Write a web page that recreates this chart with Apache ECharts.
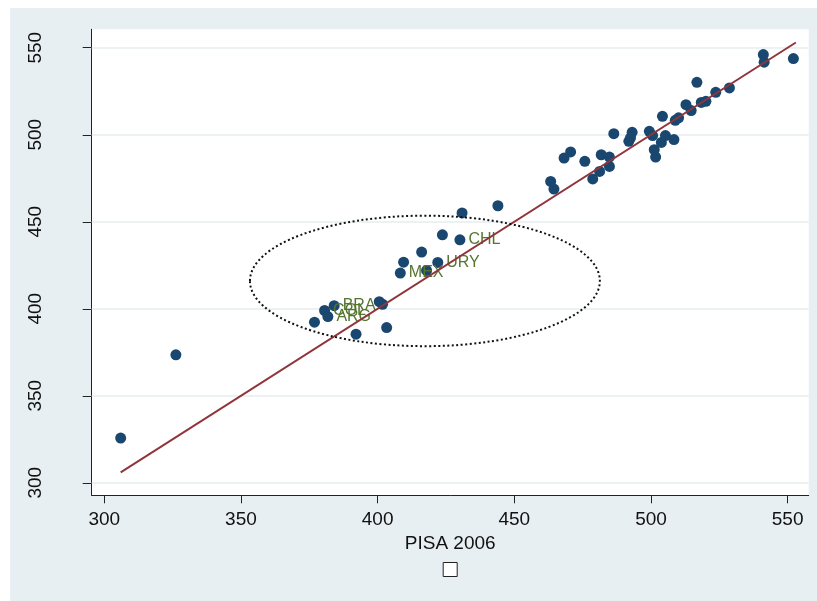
<!DOCTYPE html>
<html>
<head>
<meta charset="utf-8">
<script src="https://cdn.jsdelivr.net/npm/echarts@6/dist/echarts.min.js"></script>
<style>
    html, body { margin: 0; padding: 0; background: #fff; }
    #mainChart { position: absolute; left: 10px; top: 8px; width: 807px; height: 593px; }
</style>
</head>
<body>
<div id="mainChart"></div>
<script>
// tick values
var xTicks = [300, 350, 400, 450, 500, 550];
var yTicks = [300, 350, 400, 450, 500, 550];

// PISA 2006 (x) vs. other score (y), one point per country
var pisaX = [306.0, 326.2, 376.9, 380.6, 381.8, 384.1, 392.1, 400.6, 401.8, 403.3,
    408.3, 409.5, 416.1, 417.9, 422.0, 423.7, 430.1, 430.9, 444.0,
    463.3, 464.5, 468.2, 470.6, 475.8, 478.7, 481.2, 481.8, 484.8, 484.8,
    486.4, 491.9, 492.5, 493.1, 499.4, 500.6, 501.2, 501.7, 503.8, 505.3,
    508.4, 504.2, 508.9, 510.1, 512.8, 514.7, 516.8, 518.4, 520.1, 523.7,
    528.7, 541.1, 541.4, 552.1];
var pisaY = [325.7, 373.5, 392.3, 399.0, 395.5, 401.8, 385.4, 404.1, 402.6, 389.2,
    420.5, 426.8, 432.6, 422.0, 426.6, 442.5, 439.6, 455.1, 459.2,
    473.2, 468.8, 486.6, 490.1, 484.7, 474.6, 478.9, 488.5, 487.2, 481.8,
    500.6, 496.2, 498.2, 501.4, 502.0, 499.5, 491.4, 487.2, 495.6, 499.5,
    497.2, 510.6, 508.3, 509.7, 517.3, 513.9, 530.1, 518.6, 519.2, 524.4,
    526.9, 546.1, 541.7, 543.8];

// labelled countries (index into pisaX / pisaY)
var labelIdx = [3, 4, 5, 10, 14, 16];
var labelText = ['COL', 'ARG', 'BRA', 'MEX', 'URY', 'CHL'];

// fitted line end points
var fitX = [306, 553];
var fitY = [306, 553];

// ellipse: centre x, centre y, radius x, radius y (data units)
var ellipse = [417.3, 416, 64, 37.5];

var option;
var summaryChart;

function buildOption() {
    var points = [];
    for (var i = 0; i < pisaX.length; i++) {
        var k = labelIdx.indexOf(i);
        points.push({
            name: k >= 0 ? labelText[k] : '',
            value: [pisaX[i], pisaY[i]],
            label: { show: k >= 0 }
        });
    }
    var fit = [];
    for (var j = 0; j < fitX.length; j++) {
        fit.push([fitX[j], fitY[j]]);
    }
    var grid = [];
    for (var g = 0; g < yTicks.length; g++) {
        grid.push({ yAxis: yTicks[g] });
    }

    var axisFont = { fontFamily: 'Liberation Sans', fontSize: 19, color: '#111' };

    option = {
        backgroundColor: '#e8eff2',
        animation: false,
        textStyle: { fontFamily: 'Liberation Sans' },
        grid: {
            left: 81.7, top: 21.3, width: 717, height: 466,
            show: true, backgroundColor: '#fff', borderWidth: 0
        },
        legend: {
            data: [{ name: 'PISA', icon: 'rect', itemStyle: { color: '#fff', borderColor: '#222', borderWidth: 1 } }],
            left: 432.7, bottom: 24, padding: 0,
            itemWidth: 14, itemHeight: 14,
            formatter: function () { return ''; }
        },
        xAxis: {
            type: 'value',
            min: 295.4, max: 557.7,
            name: 'PISA 2006',
            nameLocation: 'middle',
            nameGap: 34,
            nameTextStyle: axisFont,
            axisLine: { show: true, onZero: false, lineStyle: { color: '#222', width: 1 } },
            axisTick: { show: true, length: 8, customValues: xTicks, lineStyle: { color: '#222' } },
            axisLabel: Object.assign({ margin: 15, customValues: xTicks }, axisFont),
            splitLine: { show: false }
        },
        yAxis: {
            type: 'value',
            min: 292.8, max: 560.6,
            axisLine: { show: true, onZero: false, lineStyle: { color: '#222', width: 1 } },
            axisTick: { show: true, length: 9, customValues: yTicks, lineStyle: { color: '#222' } },
            axisLabel: Object.assign({ margin: 46, rotate: 90, customValues: yTicks }, axisFont),
            splitLine: { show: false }
        },
        series: [
            {
                // horizontal grid lines
                type: 'line',
                data: [],
                z: 1,
                silent: true,
                markLine: {
                    silent: true,
                    z: 1,
                    symbol: 'none',
                    label: { show: false },
                    lineStyle: { color: '#e6eef1', width: 1.5, type: 'solid' },
                    data: grid
                }
            },
            {
                name: 'PISA',
                type: 'scatter',
                z: 3,
                symbol: 'circle',
                symbolSize: 11,
                itemStyle: { color: '#1a476f', opacity: 1 },
                label: {
                    position: 'right',
                    distance: 3,
                    formatter: '{b}',
                    color: '#55752f',
                    fontFamily: 'Liberation Sans',
                    fontSize: 16
                },
                data: points
            },
            {
                type: 'line',
                z: 4,
                silent: true,
                symbol: 'none',
                lineStyle: { color: '#90353b', width: 2 },
                data: fit
            },
            {
                type: 'custom',
                z: 5,
                silent: true,
                data: [ellipse],
                renderItem: function (params, api) {
                    var c = api.coord([api.value(0), api.value(1)]);
                    var rx = api.size([api.value(2), 0])[0];
                    var ry = api.size([0, api.value(3)])[1];
                    return {
                        type: 'ellipse',
                        shape: { cx: c[0], cy: c[1], rx: rx, ry: ry },
                        style: { fill: 'none', stroke: '#111', lineWidth: 2, lineDash: [2, 2.5] }
                    };
                }
            }
        ]
    };
}

buildOption();
summaryChart = echarts.init(document.getElementById('mainChart'));
summaryChart.setOption(option);
window.onresize = function () {
    summaryChart.resize();
};
</script>
</body>
</html>
